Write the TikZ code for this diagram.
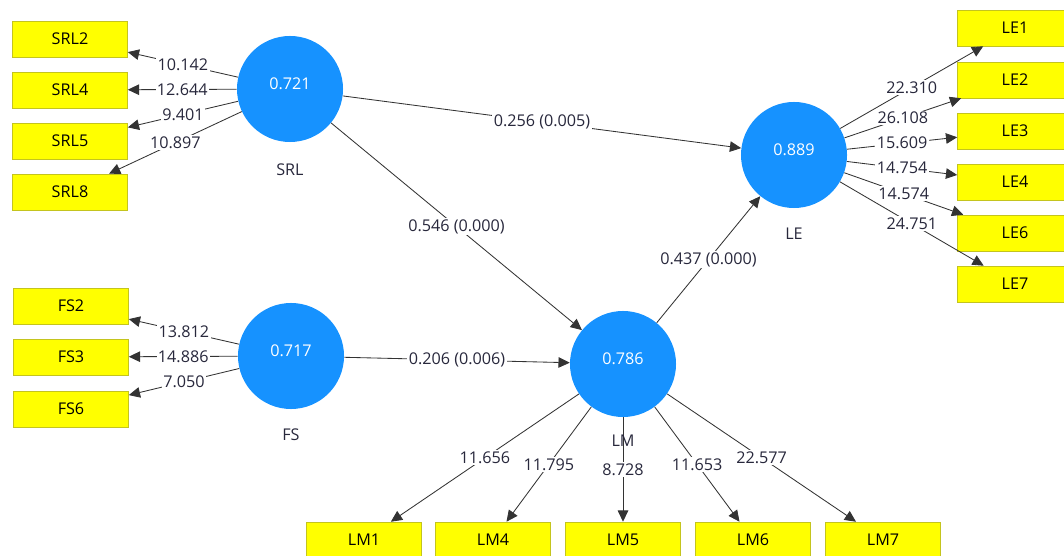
\documentclass[tikz,border=0pt]{standalone}
\usepackage{fontspec}
\setmainfont{Open Sans}
\usetikzlibrary{arrows.meta}
\definecolor{lvblue}{RGB}{22,146,255}
\definecolor{mvyellow}{RGB}{255,255,0}
\definecolor{mvedge}{RGB}{196,196,30}
\definecolor{coeftext}{RGB}{40,40,60}
\tikzset{
  latent/.style={circle,fill=lvblue,minimum size=2.65cm,inner sep=0pt,text=white,
    text height=8pt,text depth=7pt,font=\fontsize{11.5}{13}\selectfont},
  indicator/.style={rectangle,draw=mvedge,fill=mvyellow,minimum width=2.875cm,
    minimum height=0.9cm,inner sep=0pt,font=\fontsize{11.5}{13}\selectfont},
  lvname/.style={text=coeftext,font=\fontsize{11.5}{13}\selectfont},
  coef/.style={fill=white,inner sep=1pt,text=coeftext,font=\fontsize{11.5}{13}\selectfont},
  arc/.style={draw=black!80,line width=0.6pt,-{Triangle[length=8pt,width=7.5pt]}}
}
\begin{document}
\begin{tikzpicture}[x=0.025cm,y=-0.025cm]
    \useasboundingbox(0,0)rectangle(1064,556);
    \node[latent](SRL)at(290,89){0.721};
    \node[latent](FS)at(291,356){0.717};
    \node[latent](LM)at(623,364){0.786};
    \node[latent](LE)at(794,155){0.889};
    \node[indicator](SRL2)at(70,39){SRL2};
    \node[indicator](SRL4)at(70,90){SRL4};
    \node[indicator](SRL5)at(70,141){SRL5};
    \node[indicator](SRL8)at(70,192){SRL8};
    \node[indicator](FS2)at(71,306){FS2};
    \node[indicator](FS3)at(71,357){FS3};
    \node[indicator](FS6)at(71,409){FS6};
    \node[indicator](LM1)at(364,540){LM1};
    \node[indicator](LM4)at(493,540){LM4};
    \node[indicator](LM5)at(623,540){LM5};
    \node[indicator](LM6)at(753,540){LM6};
    \node[indicator](LM7)at(883,540){LM7};
    \node[indicator](LE1)at(1015,28){LE1};
    \node[indicator](LE2)at(1015,80){LE2};
    \node[indicator](LE3)at(1015,131){LE3};
    \node[indicator](LE4)at(1015,182){LE4};
    \node[indicator](LE6)at(1015,233){LE6};
    \node[indicator](LE7)at(1015,284){LE7};
    \draw[arc](SRL)--(SRL2)node[coef,midway]{10.142};
    \draw[arc](SRL)--(SRL4)node[coef,midway]{12.644};
    \draw[arc](SRL)--(SRL5)node[coef,midway]{9.401};
    \draw[arc](SRL)--(SRL8)node[coef,midway]{10.897};
    \draw[arc](FS)--(FS2)node[coef,midway]{13.812};
    \draw[arc](FS)--(FS3)node[coef,midway]{14.886};
    \draw[arc](FS)--(FS6)node[coef,midway]{7.050};
    \draw[arc](LM)--(LM1)node[coef,midway]{11.656};
    \draw[arc](LM)--(LM4)node[coef,midway]{11.795};
    \draw[arc](LM)--(LM5)node[coef,midway]{8.728};
    \draw[arc](LM)--(LM6)node[coef,midway]{11.653};
    \draw[arc](LM)--(LM7)node[coef,midway]{22.577};
    \draw[arc](LE)--(LE1)node[coef,midway]{22.310};
    \draw[arc](LE)--(LE2)node[coef,midway]{26.108};
    \draw[arc](LE)--(LE3)node[coef,midway]{15.609};
    \draw[arc](LE)--(LE4)node[coef,midway]{14.754};
    \draw[arc](LE)--(LE6)node[coef,midway]{14.574};
    \draw[arc](LE)--(LE7)node[coef,midway]{24.751};
    \draw[arc](SRL)--(LE)node[coef,midway]{0.256 (0.005)};
    \draw[arc](SRL)--(LM)node[coef,midway]{0.546 (0.000)};
    \draw[arc](FS)--(LM)node[coef,midway]{0.206 (0.006)};
    \draw[arc](LM)--(LE)node[coef,midway]{0.437 (0.000)};
    \node[lvname](SRLname)at(290,170){SRL};
    \node[lvname](FSname)at(291,435){FS};
    \node[lvname](LMname)at(623,441){LM};
    \node[lvname](LEname)at(794,234){LE};
\end{tikzpicture}
\end{document}
